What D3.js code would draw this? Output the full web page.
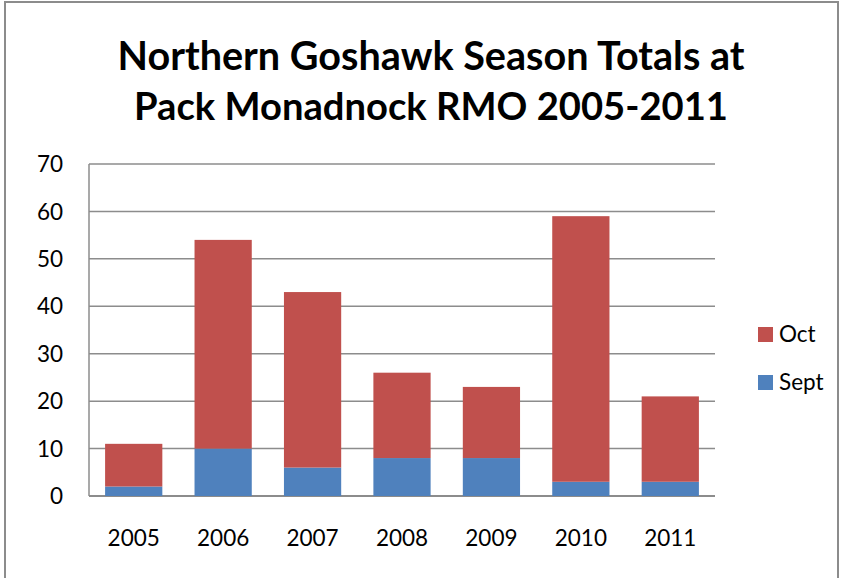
<!DOCTYPE html>
<html><head><meta charset="utf-8">
<script src="https://cdn.jsdelivr.net/npm/d3@7"></script>
<style>body{margin:0;background:#fff}svg{display:block}text{font-family:Lato,"Open Sans",sans-serif;fill:#000}</style>
</head><body><svg id="c" width="843" height="578"></svg>
<script>
const years = ["2005","2006","2007","2008","2009","2010","2011"];
const sept = [2,10,6,8,8,3,3];
const oct = [9,44,37,18,15,56,18];
const seriesNames = ["Sept","Oct"];
const colors = {Sept:"#4F81BD", Oct:"#C0504D"};
const yTicks = [0,10,20,30,40,50,60,70];
const titleLines = ["Northern Goshawk Season Totals at","Pack Monadnock RMO 2005-2011"];

const svg = d3.select("#c");
svg.append("rect").attr("x",5).attr("y",2).attr("width",833).attr("height",600)
  .attr("fill","#fff").attr("stroke","#8c8c8c").attr("stroke-width",2);

const L=89,R=715,T=164,B=496;
const x = d3.scaleBand().domain(years).range([L,R]).paddingInner(0.36).paddingOuter(0.18);
const y = d3.scaleLinear().domain([0,70]).range([B,T]);

svg.append("g").selectAll("line").data(yTicks).join("line")
  .attr("x1",L).attr("x2",R).attr("y1",d=>y(d)).attr("y2",d=>y(d))
  .attr("stroke","#8c8c8c").attr("stroke-width",1.5);
svg.append("line").attr("x1",L).attr("x2",L).attr("y1",T).attr("y2",B).attr("stroke","#8c8c8c").attr("stroke-width",1.5);
svg.append("line").attr("x1",L).attr("x2",R).attr("y1",B).attr("y2",B).attr("stroke","#8c8c8c").attr("stroke-width",2);

const table = years.map((yr,i)=>({year:yr, Sept:sept[i], Oct:oct[i]}));
const stack = d3.stack().keys(seriesNames)(table);
svg.append("g").selectAll("g").data(stack).join("g").attr("fill",s=>colors[s.key])
  .selectAll("rect").data(s=>s).join("rect")
  .attr("x",d=>x(d.data.year)).attr("width",x.bandwidth())
  .attr("y",d=>y(d[1])).attr("height",d=>y(d[0])-y(d[1]));

svg.append("g").selectAll("text").data(yTicks).join("text")
  .attr("x",63).attr("y",d=>y(d)).attr("dy","0.36em").attr("text-anchor","end")
  .attr("font-size",22.5).text(d=>d);
svg.append("g").selectAll("text").data(years).join("text")
  .attr("x",d=>x(d)+x.bandwidth()/2).attr("y",546).attr("text-anchor","middle")
  .attr("font-size",22.5).text(d=>d);

const tw=[627,594];
titleLines.forEach((t,i)=>{
  const el = svg.append("text").attr("x",431).attr("y",[70,120][i]).attr("text-anchor","middle")
    .attr("font-weight","bold").attr("font-size",36).text(t);
  const w = el.node().getComputedTextLength();
  el.attr("font-size",36*tw[i]/w);
});

const leg = [{k:"Oct",y:327},{k:"Sept",y:375}];
leg.forEach(l=>{
  svg.append("rect").attr("x",758).attr("y",l.y).attr("width",15).attr("height",15).attr("fill",colors[l.k]);
  svg.append("text").attr("x",779).attr("y",l.y+15).attr("font-size",22.5).text(l.k);
});
</script></body></html>
